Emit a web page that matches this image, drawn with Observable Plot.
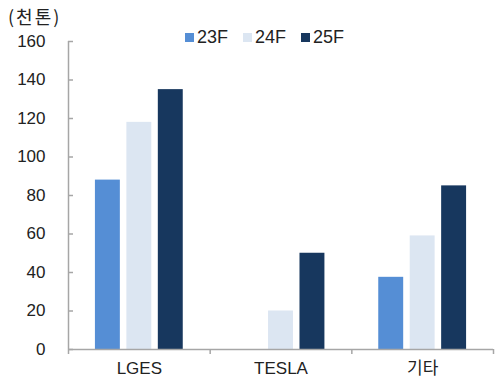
<!DOCTYPE html>
<html><head><meta charset="utf-8">
<script src="https://cdn.jsdelivr.net/npm/d3@7"></script>
<script src="https://cdn.jsdelivr.net/npm/@observablehq/plot@0.6"></script>
<style>
body{margin:0;background:#fff;font-family:"Liberation Sans","Noto Sans CJK KR",sans-serif;}
#wrap{position:relative;width:495px;height:378px;}
#unit{position:absolute;left:8px;top:3px;font-size:18px;letter-spacing:2px;color:#222;font-family:"Noto Sans CJK KR","Liberation Sans",sans-serif;line-height:26px;}
#legend{position:absolute;left:185px;top:27px;display:flex;gap:15px;font-size:18px;color:#222;line-height:20px;}
#legend span{display:flex;align-items:center;}
#legend i{display:inline-block;width:9px;height:9px;margin-right:3px;}
</style></head>
<body><div id="wrap"><div id="unit">(천톤)</div><div id="legend"></div></div>
<script>
const categories = ["LGES", "TESLA", "기타"];
const seriesNames = ["23F", "24F", "25F"];
const v23F = [88, null, 37.5];
const v24F = [118, 20, 59];
const v25F = [135, 50, 85];
const yTicks = [0, 20, 40, 60, 80, 100, 120, 140, 160];
const colors = ["#558ED5", "#DCE6F2", "#17375E"];

const values = [v23F, v24F, v25F];
const rows = [];
values.forEach((arr, s) => arr.forEach((v, i) => { if (v != null) rows.push({cat: categories[i], ci: i, s, series: seriesNames[s], value: v}); }));

const step = 0.222, hw = 0.088;
const xDomain = [-0.5, categories.length - 0.5];
const bounds = d3.range(categories.length + 1).map(k => k - 0.5);
const axisColor = "#a6a6a6";

const chart = Plot.plot({
  width: 495, height: 378,
  marginLeft: 68, marginRight: 2, marginTop: 41, marginBottom: 29,
  style: {fontFamily: '"Liberation Sans","Noto Sans CJK KR",sans-serif', fontSize: "17px", color: "#222", background: "transparent"},
  x: {type: "linear", domain: xDomain},
  y: {domain: [0, 160]},
  color: {domain: seriesNames, range: colors},
  marks: [
    Plot.rectY(rows, {x1: d => d.ci + (d.s - 1) * step - hw, x2: d => d.ci + (d.s - 1) * step + hw, y: "value", fill: "series"}),
    Plot.ruleX([xDomain[0]], {stroke: axisColor, strokeWidth: 1.5}),
    Plot.ruleY([0], {stroke: axisColor, strokeWidth: 1.5}),
    Plot.axisY({ticks: yTicks, tickSize: -5, tickPadding: 28, stroke: axisColor, strokeWidth: 1.5, label: null, fontSize: 17}),
    Plot.axisX({ticks: bounds, tickSize: 5, tickFormat: () => "", stroke: axisColor, strokeWidth: 1.5, label: null}),
    Plot.axisX({ticks: d3.range(categories.length), tickSize: 0, tickPadding: 12, tickFormat: i => categories[i], label: null, fontSize: 17})
  ]
});
document.getElementById("wrap").appendChild(chart);
const lg = document.getElementById("legend");
seriesNames.forEach((n, k) => {
  const s = document.createElement("span");
  s.innerHTML = `<i style="background:${colors[k]}"></i>${n}`;
  lg.appendChild(s);
});
</script></body></html>
